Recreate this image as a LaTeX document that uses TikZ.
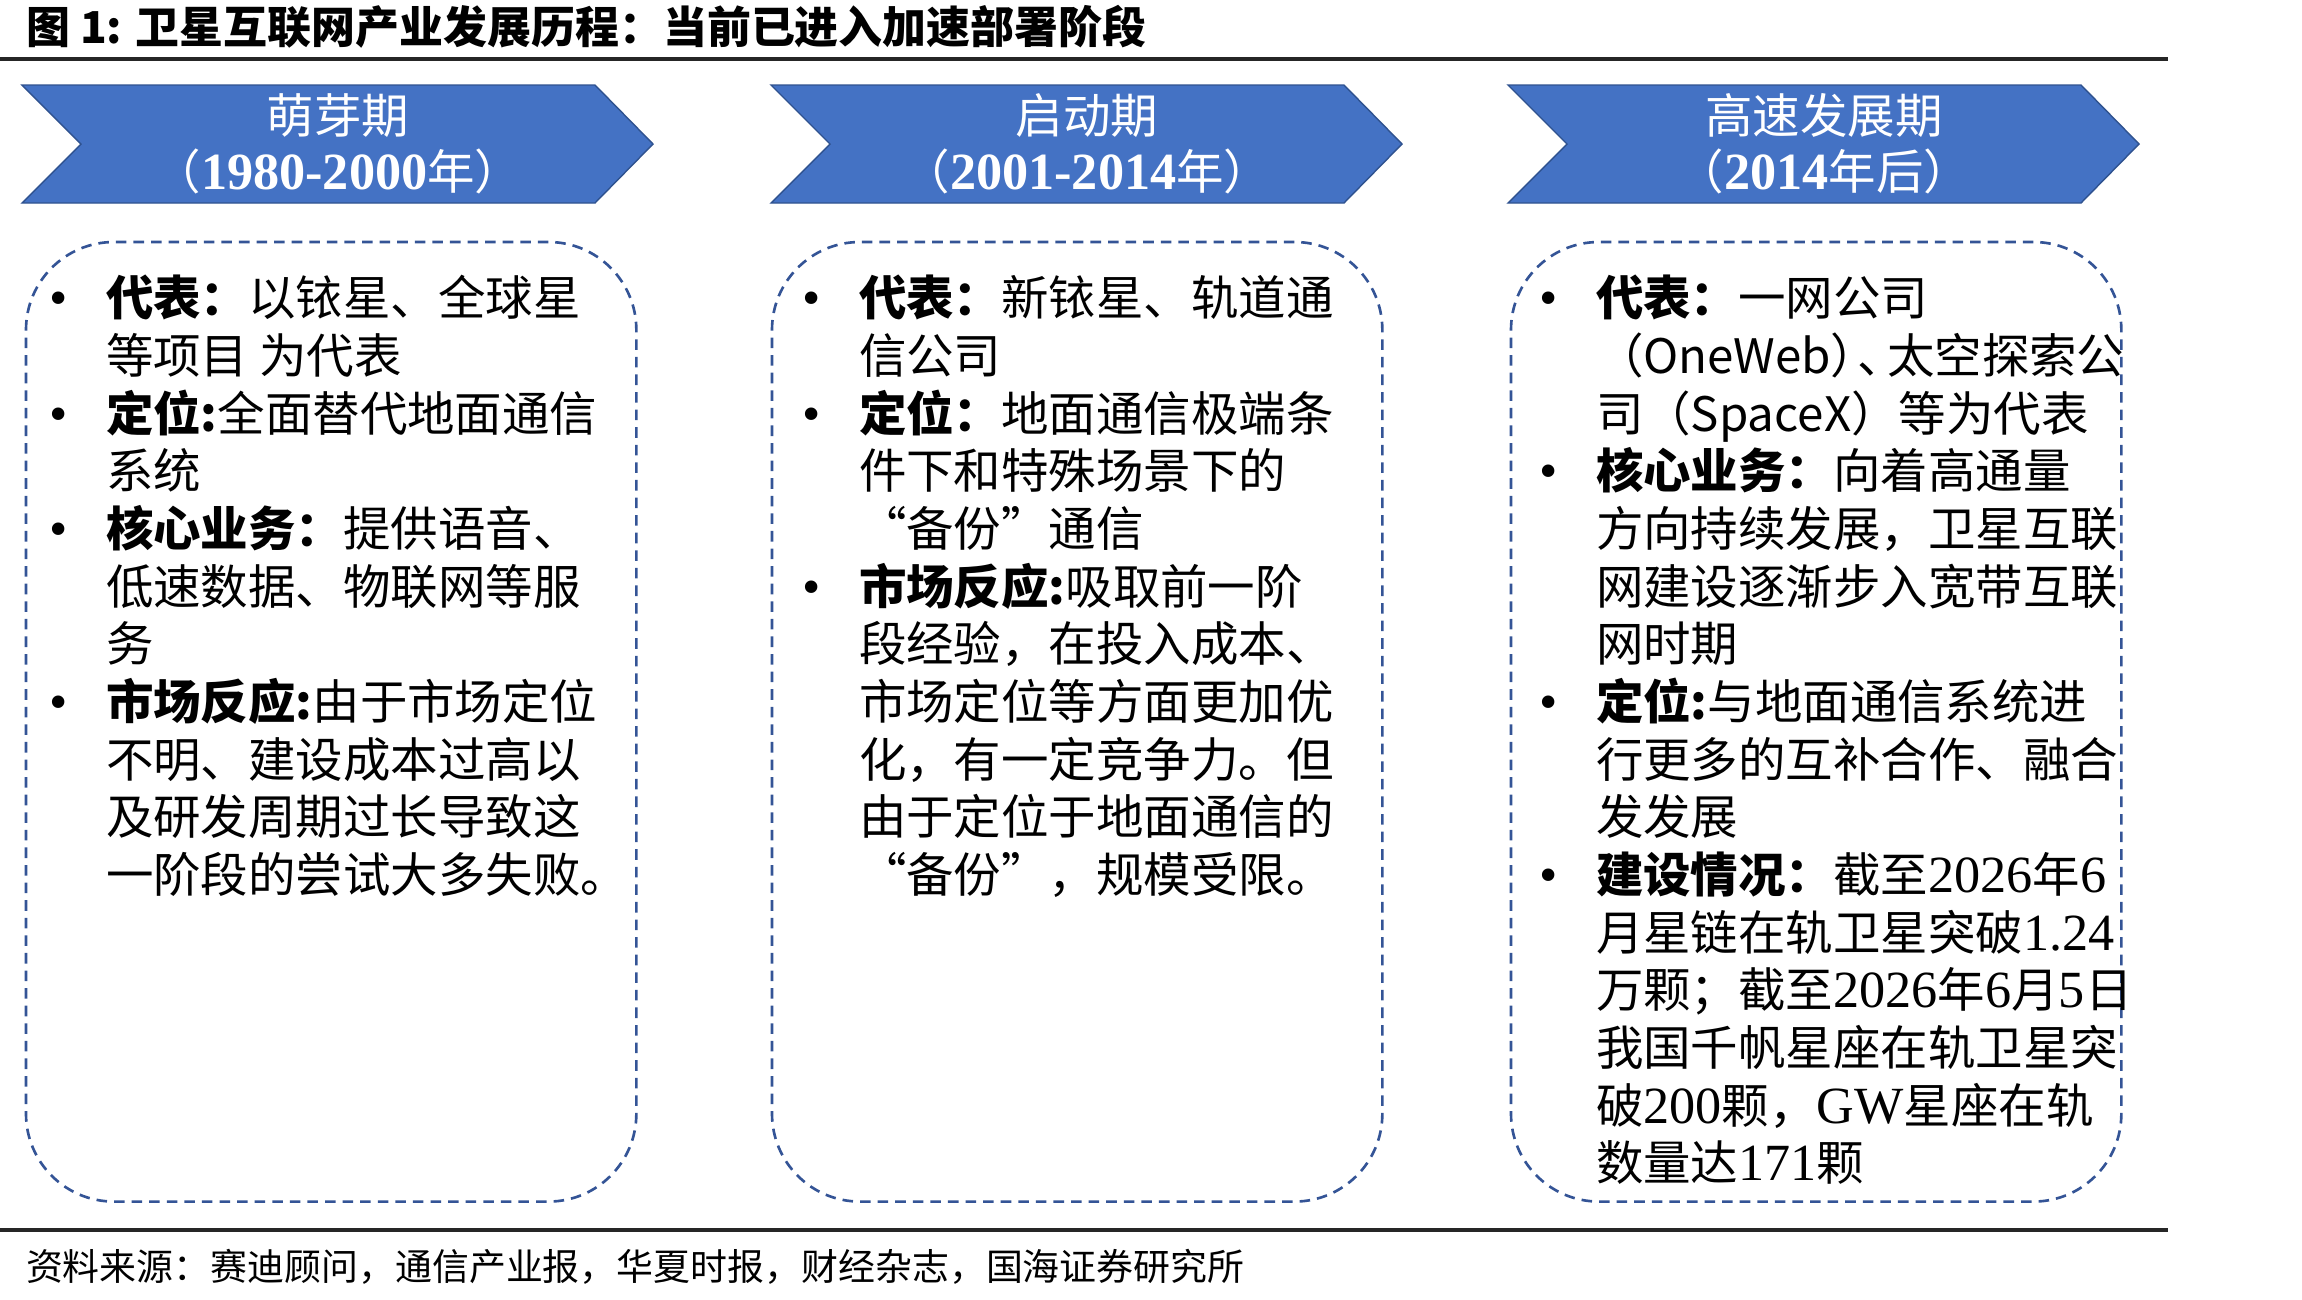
\documentclass[tikz,border=0pt]{standalone}
\usepackage{fontspec}
\newfontfamily\cjk{Noto Sans CJK SC}
\newfontfamily\lat[Scale=1.1]{Liberation Serif}
\definecolor{chevblue}{RGB}{68,114,196}
\definecolor{chevline}{RGB}{47,82,143}
\definecolor{dashblue}{RGB}{52,84,150}
\newcommand{\itembul}{\llap{\makebox[16pt][l]{\lat •}}}

\begin{document}
\begin{tikzpicture}[x=0.01cm, y=-0.01cm,
  every node/.style={inner sep=0pt, outer sep=0pt},
  chev/.style={fill=chevblue, draw=chevline, line width=0.4pt},
  chevtext/.style={text=white, align=center, font=\cjk\fontsize{13.5pt}{16pt}\selectfont},
  dashbox/.style={draw=dashblue, dash pattern=on 3pt off 2pt, line width=0.75pt, rounded corners=25pt,
    minimum width=6.1cm, minimum height=9.59cm, anchor=north west},
  body/.style={anchor=north west, align=left, font=\cjk\fontsize{13.5pt}{16.4pt}\selectfont},
  rulel/.style={line width=0.9pt, draw=black!85}]
\useasboundingbox (0,0) rectangle (2302,1299);
% title and rules
\node[anchor=base west, font=\cjk\bfseries\fontsize{12.5pt}{15pt}\selectfont] (title) at (26,43)
  {图 1: 卫星互联网产业发展历程：当前已进入加速部署阶段};
\coordinate (topL) at (0,59);
\coordinate (topR) at (2168,59);
\draw[rulel] (topL) -- (topR);
% phase chevrons
\foreach \x/\nm/\yr/\sfx/\id in {22/萌芽期/1980-2000/年/a, 771/启动期/2001-2014/年/b, 1508/高速发展期/2014/年后/c} {
  \draw[chev] (\x,85) -- ++(573,0) -- ++(58,59) -- ++(-58,59) -- ++(-573,0) -- ++(59,-59) -- cycle;
  \node[chevtext] (phase\id) at (\x+316,144) {\nm\\（{\lat\bfseries\yr}\sfx）};
}
% dashed boxes
\foreach \x/\id in {26/a, 772/b, 1511/c}
  \node[dashbox] (box\id) at (\x,242) {};
% box texts
\node[body] (texta) at (106,270) {\rule{0pt}{13pt}\itembul{\bfseries 代表：}以铱星、全球星\\
  等项目 为代表\\
  \itembul{\bfseries 定位:}全面替代地面通信\\
  系统\\
  \itembul{\bfseries 核心业务：}提供语音、\\
  低速数据、物联网等服\\
  务\\
  \itembul{\bfseries 市场反应:}由于市场定位\\
  不明、建设成本过高以\\
  及研发周期过长导致这\\
  一阶段的尝试大多失败。};
\node[body] (textb) at (859,270) {\rule{0pt}{13pt}\itembul{\bfseries 代表：}新铱星、轨道通\\
  信公司\\
  \itembul{\bfseries 定位：}地面通信极端条\\
  件下和特殊场景下的\\
  “备份”通信\\
  \itembul{\bfseries 市场反应:}吸取前一阶\\
  段经验，在投入成本、\\
  市场定位等方面更加优\\
  化，有一定竞争力。但\\
  由于定位于地面通信的\\
  “备份”，规模受限。};
\node[body] (textc) at (1596,270) {\rule{0pt}{13pt}\itembul{\bfseries 代表：}一网公司\\
  （OneWeb）\kern-6pt、\kern-5pt 太空探索公\\
  司（SpaceX）等为代表\\
  \itembul{\bfseries 核心业务：}向着高通量\\
  方向持续发展，卫星互联\\
  网建设逐渐步入宽带互联\\
  网时期\\
  \itembul{\bfseries 定位:}与地面通信系统进\\
  行更多的互补合作、融合\\
  发发展\\
  \itembul{\bfseries 建设情况：}截至{\lat 2026}年{\lat 6}\\
  月星链在轨卫星突破{\lat 1.24}\\
  万颗；截至{\lat 2026}年{\lat 6}月{\lat 5}日\\
  我国千帆星座在轨卫星突\\
  破{\lat 200}颗，{\lat GW}星座在轨\\
  数量达{\lat 171}颗};
% source line
\coordinate (botL) at (0,1230);
\coordinate (botR) at (2168,1230);
\draw[rulel] (botL) -- (botR);
\node[anchor=base west, font=\cjk\fontsize{10.5pt}{12pt}\selectfont] (source) at (26,1280)
  {资料来源：赛迪顾问，通信产业报，华夏时报，财经杂志，国海证券研究所};
\end{tikzpicture}
\end{document}
